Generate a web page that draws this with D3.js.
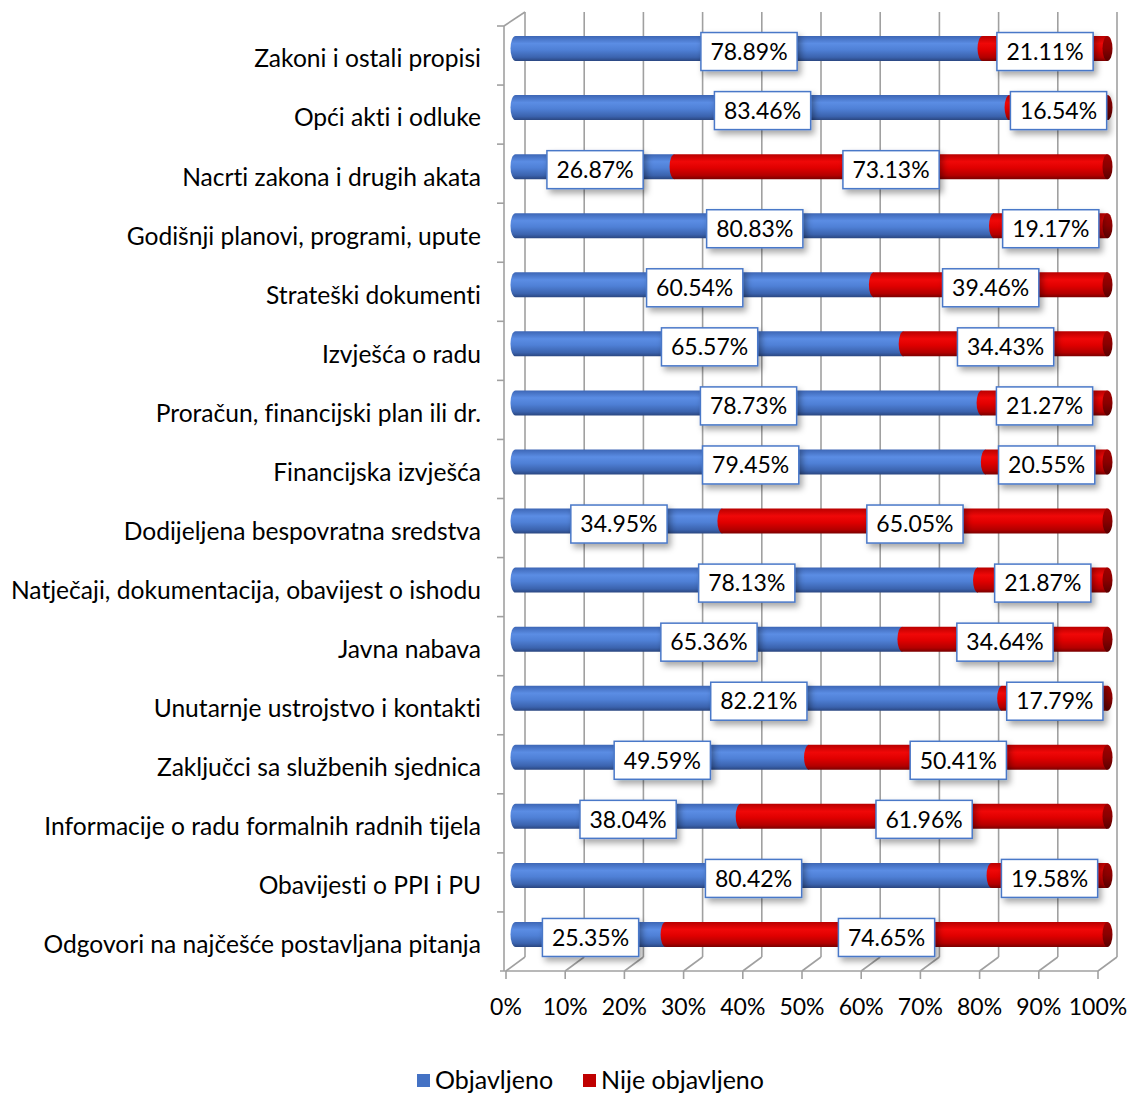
<!DOCTYPE html>
<html>
<head>
<meta charset="utf-8">
<script src="https://cdn.jsdelivr.net/npm/d3@7"></script>
<style>
  body { margin: 0; background: #fff; }
  text { font-family: Lato, "Open Sans", sans-serif; fill: #000; font-variant-ligatures: none; font-feature-settings: "liga" 0; }
</style>
</head>
<body>
<div id="chart"></div>
<script>
const categories = [
  "Zakoni i ostali propisi",
  "Opći akti i odluke",
  "Nacrti zakona i drugih akata",
  "Godišnji planovi, programi, upute",
  "Strateški dokumenti",
  "Izvješća o radu",
  "Proračun, financijski plan ili dr.",
  "Financijska izvješća",
  "Dodijeljena bespovratna sredstva",
  "Natječaji, dokumentacija, obavijest o ishodu",
  "Javna nabava",
  "Unutarnje ustrojstvo i kontakti",
  "Zaključci sa službenih sjednica",
  "Informacije o radu formalnih radnih tijela",
  "Obavijesti o PPI i PU",
  "Odgovori na najčešće postavljana pitanja"
];
const objavljeno = [78.89, 83.46, 26.87, 80.83, 60.54, 65.57, 78.73, 79.45, 34.95, 78.13, 65.36, 82.21, 49.59, 38.04, 80.42, 25.35];
const nijeObjavljeno = [21.11, 16.54, 73.13, 19.17, 39.46, 34.43, 21.27, 20.55, 65.05, 21.87, 34.64, 17.79, 50.41, 61.96, 19.58, 74.65];
const seriesNames = ["Objavljeno", "Nije objavljeno"];
const ticks = [0, 10, 20, 30, 40, 50, 60, 70, 80, 90, 100];

const W = 1132, H = 1095;
// depth vector of the 3d box
const dx = 19, dy = -14;

const svg = d3.select("#chart").append("svg")
  .attr("width", W).attr("height", H);

const defs = svg.append("defs");

function cylGrad(id, stops) {
  const g = defs.append("linearGradient").attr("id", id)
    .attr("x1", 0).attr("y1", 0).attr("x2", 0).attr("y2", 1);
  stops.forEach(s => g.append("stop").attr("offset", s[0]).attr("stop-color", s[1]));
}
cylGrad("gBlue", [[0, "#3d66b5"], [0.3, "#5b8de4"], [0.55, "#4f80d6"], [0.85, "#3b63ae"], [1, "#2a4680"]]);
cylGrad("gRed", [[0, "#b80000"], [0.3, "#f00808"], [0.55, "#e00000"], [0.85, "#b30000"], [1, "#7a0000"]]);
cylGrad("gRedEnd", [[0, "#a00000"], [0.5, "#8a0000"], [1, "#5a0000"]]);

const sh = defs.append("filter").attr("id", "shadow")
  .attr("x", "-20%").attr("y", "-30%").attr("width", "150%").attr("height", "180%");
sh.append("feDropShadow").attr("dx", 3).attr("dy", 4)
  .attr("stdDeviation", 3).attr("flood-color", "#000").attr("flood-opacity", 0.35);

// scales: front of the floor, and bars half way into the depth
const x = d3.scaleLinear().domain([0, 100]).range([506, 1098]);
const y = d3.scaleBand().domain(categories).range([26, 971]);
const xb = v => x(v) + dx / 2;
const yb = c => y(c) + y.bandwidth() / 2 + dy / 2;

const grid = svg.append("g").attr("stroke", "#a0a0a0").attr("stroke-width", 1.6).attr("fill", "none");
const floorY = y.range()[1], topY = y.range()[0];

// back wall vertical lines
ticks.forEach(t => {
  grid.append("line")
    .attr("x1", x(t) + dx).attr("x2", x(t) + dx)
    .attr("y1", topY + dy).attr("y2", floorY + dy);
  // floor diagonals
  grid.append("line")
    .attr("x1", x(t)).attr("y1", floorY)
    .attr("x2", x(t) + dx).attr("y2", floorY + dy);
  // tick marks
  grid.append("line")
    .attr("x1", x(t)).attr("x2", x(t))
    .attr("y1", floorY).attr("y2", floorY + 8);
});
// front floor edge
grid.append("line").attr("x1", x(0) - 6).attr("x2", x(100))
  .attr("y1", floorY).attr("y2", floorY);
// left wall
grid.append("line").attr("x1", x(0) - 2).attr("x2", x(0) - 2)
  .attr("y1", topY).attr("y2", floorY);
grid.append("line").attr("x1", x(0) - 2).attr("y1", topY)
  .attr("x2", x(0) + dx).attr("y2", topY + dy);
categories.forEach(c => {
  grid.append("line").attr("x1", x(0) - 9).attr("x2", x(0) - 2)
    .attr("y1", y(c)).attr("y2", y(c));
});

// bars
const bh = 25, rx = 5;
const bars = svg.append("g");
categories.forEach((c, i) => {
  const cy = yb(c);
  const segs = [
    { v0: 0, v1: objavljeno[i], fill: "url(#gBlue)" },
    { v0: objavljeno[i], v1: objavljeno[i] + nijeObjavljeno[i], fill: "url(#gRed)" }
  ];
  segs.forEach(s => {
    const x0 = xb(s.v0), x1 = xb(s.v1);
    const p = d3.path();
    p.moveTo(x0, cy - bh / 2);
    p.lineTo(x1, cy - bh / 2);
    p.lineTo(x1, cy + bh / 2);
    p.lineTo(x0, cy + bh / 2);
    bars.append("path")
      .attr("d", p.toString() + ` A ${rx} ${bh / 2} 0 0 1 ${x0} ${cy - bh / 2} Z`)
      .attr("fill", s.fill);
  });
  bars.append("ellipse")
    .attr("cx", xb(100)).attr("cy", cy)
    .attr("rx", rx).attr("ry", bh / 2)
    .attr("fill", "url(#gRedEnd)");
});

// data labels
const labels = svg.append("g");
categories.forEach((c, i) => {
  const cy = yb(c) + 3;
  [[0, objavljeno[i]], [objavljeno[i], objavljeno[i] + nijeObjavljeno[i]]].forEach(r => {
    const cx = xb((r[0] + r[1]) / 2);
    const txt = (r[1] - r[0]).toFixed(2) + "%";
    const g = labels.append("g");
    const rect = g.append("rect").attr("fill", "#fff")
      .attr("stroke", "#4a78c8").attr("stroke-width", 1.5)
      .attr("filter", "url(#shadow)");
    const t = g.append("text").attr("x", cx).attr("y", cy)
      .attr("text-anchor", "middle").attr("dy", "0.36em")
      .style("font-size", "23px").text(txt);
    const w = t.node().getComputedTextLength() + 19;
    rect.attr("x", cx - w / 2).attr("y", cy - 19).attr("width", w).attr("height", 38);
  });
});

// category labels
svg.append("g").selectAll("text").data(categories).join("text")
  .attr("x", 481).attr("y", c => y(c) + y.bandwidth() / 2 + 3)
  .attr("dy", "0.36em").attr("text-anchor", "end")
  .style("font-size", "24.6px").text(c => c);

// x tick labels
svg.append("g").selectAll("text").data(ticks).join("text")
  .attr("x", t => x(t)).attr("y", 1015)
  .attr("text-anchor", "middle")
  .style("font-size", "23px").text(t => t + "%");

// legend
const legend = svg.append("g");
const legendX = [417, 583];
seriesNames.forEach((n, i) => {
  legend.append("rect").attr("x", legendX[i]).attr("y", 1074)
    .attr("width", 13).attr("height", 13)
    .attr("fill", i === 0 ? "#4472c4" : "#c00000");
  legend.append("text").attr("x", legendX[i] + 18).attr("y", 1089)
    .style("font-size", "25px").text(n);
});
</script>
</body>
</html>
